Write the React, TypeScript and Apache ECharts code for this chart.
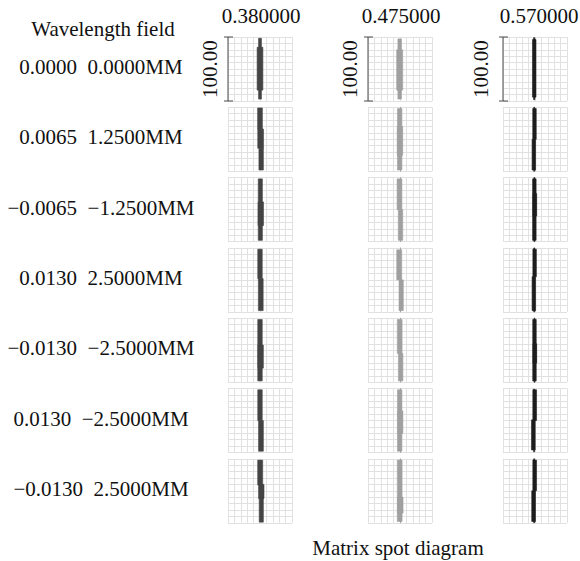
import React, { useEffect, useRef } from "react";
import * as echarts from "echarts";

// ---------- data ----------
const wavelengths = ["0.380000", "0.475000", "0.570000"];
const fieldX = ["0.0000", "0.0065", "\u22120.0065", "0.0130", "\u22120.0130", "0.0130", "\u22120.0130"];
const fieldY = ["0.0000MM", "1.2500MM", "\u22121.2500MM", "2.5000MM", "\u22122.5000MM", "\u22122.5000MM", "2.5000MM"];
const headerTitle = "Wavelength field";
const chartTitle = "Matrix spot diagram";
const scaleLabel = "100.00";
const axisMin = -50;
const axisMax = 50;
const gridStep = 10;
// scale bar: [x position, y from, y to] in µm
const scaleBar = [-50, -50, 50];

// spot segments: [x centre, y from, y to, width] in µm
const spots380 = [
  [[0, -47, 48, 4.5], [0, -33, 34, 9]],
  [[0, 16, 49, 7.5], [1, -14, 16, 9], [1.8, -48, -14, 7]],
  [[0.5, -48, 48, 6.5], [1.2, -25, 12, 8.5]],
  [[0, 2, 48, 7], [1.2, -48, 2, 7.5]],
  [[0, -48, 48, 7], [1, -28, 8, 8.5]],
  [[0, 0, 48, 7], [1.5, -48, 0, 7.5]],
  [[0.3, 9, 48, 7.8], [2, -12, 10, 8.5], [2, -49, -11, 6.5]],
];
const spots475 = [
  [[-0.5, -47, 47, 5.6], [-0.5, -33, 30, 9.4]],
  [[-0.5, -48, 48, 7], [0, -25, 20, 8.5]],
  [[-0.8, 0, 48, 7.5], [0.8, -48, 0, 7]],
  [[-1.2, 0, 47, 7.8], [1.8, -48, 0, 6.7]],
  [[-0.5, -5, 48, 7.5], [1, -48, -5, 7]],
  [[-0.5, -48, 48, 7], [0.5, -20, 15, 8]],
  [[-0.5, -48, 48, 7.5], [0.5, -35, -10, 8.5]],
];
const spots570 = [
  [[-1.2, -48, 49, 2], [-1.2, -44, 46, 5.5]],
  [[-0.8, 0, 48, 5.5], [-1.8, -48, 0, 5.5], [-1.2, -50, 50, 1.5]],
  [[-1, -48, 48, 5.5], [-0.3, -10, 25, 5.8], [-1, -50, 50, 1.5]],
  [[-0.6, 5, 48, 5.5], [-1.8, -48, 5, 5.5], [-1.2, -50, 50, 1.5]],
  [[-0.8, -48, 48, 5.5], [-0.3, -20, 10, 5.8], [-0.8, -50, 50, 1.5]],
  [[-0.5, 0, 48, 5.8], [-2.6, -46, 1, 5.8], [-1.5, -49, 49, 1.5]],
  [[-0.5, 0, 48, 5.8], [-2.2, -48, 0, 5.8], [-1.3, -50, 50, 1.5]],
];
const spotsByWavelength = [spots380, spots475, spots570];

// ---------- styles / layout ----------
const spotColors = ["#444444", "#a0a0a0", "#1e1e1e"];
const colLeft = [228, 368, 503];
const cellSize = 64;
const rowTop0 = 37;
const rowStep = 70.3;
const FONT = '"Liberation Serif", "Times New Roman", serif';
const TEXT_COLOR = "#111";

export default function App() {
  const ref = useRef<HTMLDivElement>(null);

  useEffect(() => {
    if (!ref.current) return;
    const chart = echarts.init(ref.current, undefined, { renderer: "svg" });

    const grids: any[] = [];
    const xAxes: any[] = [];
    const yAxes: any[] = [];
    const series: any[] = [];
    const graphics: any[] = [];

    wavelengths.forEach((wl, c) => {
      fieldX.forEach((_, r) => {
        const idx = grids.length;
        grids.push({
          left: colLeft[c],
          top: rowTop0 + r * rowStep,
          width: cellSize,
          height: cellSize,
        });
        const split = {
          show: true,
          lineStyle: { color: "#e1e1e1", width: 1 },
        };
        xAxes.push({
          type: "value",
          gridIndex: idx,
          min: axisMin,
          max: axisMax,
          interval: gridStep,
          axisLine: { show: false },
          axisTick: { show: false },
          axisLabel: { show: false },
          splitLine: split,
        });
        yAxes.push({
          type: "value",
          gridIndex: idx,
          min: axisMin,
          max: axisMax,
          interval: gridStep,
          axisLine: {
            show: c === 1 && r > 0,
            lineStyle: { color: "#a8a8a8", width: 1 },
          },
          axisTick: { show: false },
          axisLabel: { show: false },
          splitLine: split,
          name: r === 0 ? scaleLabel : "",
          nameLocation: "middle",
          nameRotate: 90,
          nameGap: c === 2 ? 12 : 8,
          nameTextStyle: { fontFamily: FONT, fontSize: 21, color: TEXT_COLOR },
        });

        const color = spotColors[c];
        series.push({
          type: "custom",
          xAxisIndex: idx,
          yAxisIndex: idx,
          clip: false,
          silent: true,
          data: spotsByWavelength[c][r],
          renderItem: (_p: any, api: any) => {
            const xc = api.value(0);
            const y1 = api.value(1);
            const y2 = api.value(2);
            const w = api.value(3);
            const p1 = api.coord([xc - w / 2, y2]);
            const p2 = api.coord([xc + w / 2, y1]);
            return {
              type: "rect",
              shape: {
                x: p1[0],
                y: p1[1],
                width: p2[0] - p1[0],
                height: p2[1] - p1[1],
              },
              style: { fill: color, stroke: color, lineWidth: 0.6 },
            };
          },
        });

        if (r === 0) {
          series.push({
            type: "custom",
            xAxisIndex: idx,
            yAxisIndex: idx,
            clip: false,
            silent: true,
            data: [scaleBar],
            renderItem: (_p: any, api: any) => {
              const x = api.value(0);
              const top = api.coord([x, api.value(2)]);
              const bot = api.coord([x, api.value(1)]);
              const st = { stroke: "#4a4a4a", lineWidth: 1 };
              return {
                type: "group",
                children: [
                  { type: "line", shape: { x1: top[0], y1: top[1], x2: bot[0], y2: bot[1] }, style: st },
                  { type: "line", shape: { x1: top[0] - 4, y1: top[1], x2: top[0] + 5, y2: top[1] }, style: st },
                  { type: "line", shape: { x1: bot[0] - 4, y1: bot[1], x2: bot[0] + 5, y2: bot[1] }, style: st },
                ],
              };
            },
          });
        }
      });

      const headerX = c === 2 ? colLeft[c] + cellSize / 2 + 4 : colLeft[c] + cellSize / 2 + 1;
      graphics.push({
        type: "text",
        x: headerX,
        y: 16,
        style: {
          text: wl,
          fontFamily: FONT,
          fontSize: 21,
          fill: TEXT_COLOR,
          align: "center",
          verticalAlign: "middle",
        },
      });
    });

    graphics.push({
      type: "text",
      x: 103,
      y: 29,
      style: {
        text: headerTitle,
        fontFamily: FONT,
        fontSize: 21,
        fill: TEXT_COLOR,
        align: "center",
        verticalAlign: "middle",
      },
    });

    fieldX.forEach((fx, r) => {
      graphics.push({
        type: "text",
        x: 101,
        y: rowTop0 + r * rowStep + cellSize / 2 - 2,
        style: {
          text: fx + "\u00A0\u00A0" + fieldY[r],
          fontFamily: FONT,
          fontSize: 21,
          fill: TEXT_COLOR,
          align: "center",
          verticalAlign: "middle",
        },
      });
    });

    graphics.push({
      type: "text",
      x: 398,
      y: 548,
      style: {
        text: chartTitle,
        fontFamily: FONT,
        fontSize: 21,
        fill: TEXT_COLOR,
        align: "center",
        verticalAlign: "middle",
      },
    });

    chart.setOption({
      animation: false,
      backgroundColor: "#ffffff",
      grid: grids,
      xAxis: xAxes,
      yAxis: yAxes,
      series,
      graphic: graphics,
    });

    return () => chart.dispose();
  }, []);

  return (
    <div
      ref={ref}
      style={{ position: "fixed", left: 0, top: 0, width: 580, height: 561 }}
    />
  );
}
